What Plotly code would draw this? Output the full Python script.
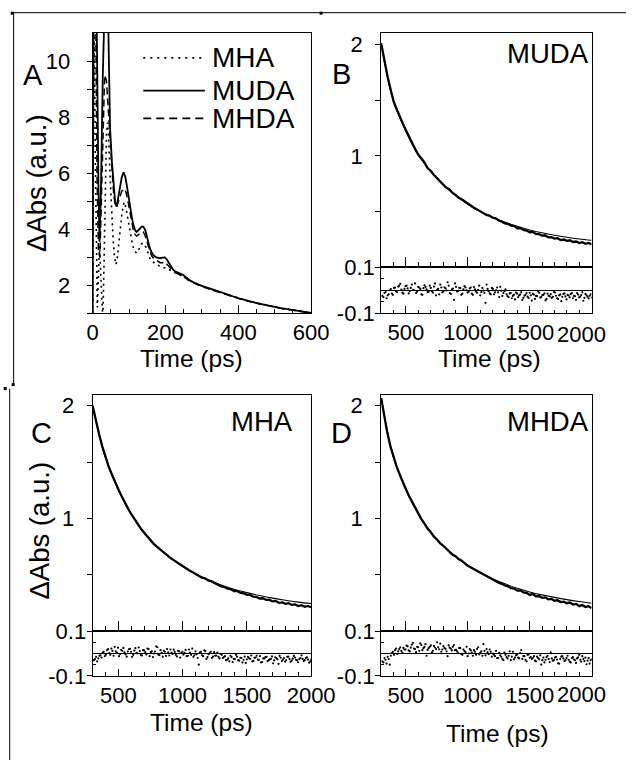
import plotly.graph_objects as go

W, H = 632, 763
FONT = "Liberation Sans, Arial, sans-serif"

# the photographed page is slightly shrunk and shifted; place items so they land where the
# reference shows them (layout positions only, no data)
SX, OX, SY, OY = 0.959, 4.8, 0.974, 9.8

def X(r):
    return (r - OX) / SX

def Y(r):
    return (r - OY) / SY

def fx(x):
    return X(x) / W

def fy(y):
    return 1 - Y(y) / H

# ---------------- Panel A data (0-600 ps) ----------------
a_muda_t = [0, 3, 6, 9, 12, 16, 19, 23, 28, 33, 39, 44, 48, 53, 57, 62, 66, 70, 75, 80, 85, 90, 94, 99,
            103, 108, 112, 117, 121, 126, 130, 135, 139, 144, 148, 153, 157, 162, 166, 175, 185, 192, 198,
            203, 207, 214, 221, 228, 235, 242, 248, 255, 262, 270, 280, 290,
            300, 310, 320, 330, 340, 350, 360, 370, 380, 390, 400, 410, 420, 430, 440, 450, 460, 470, 480,
            490, 500, 510, 520, 530, 540, 550, 560, 570, 580, 590, 600]
a_muda_v = [1.0, 14, 18, 14, 9, 5.5, 3.55, 5.5, 9.5, 13, 15, 10.5, 7.6, 6.4, 5.7, 4.95, 4.8, 5.1, 5.55, 5.85,
            6.03, 5.85, 5.55, 5.1, 4.73, 4.4, 4.14, 3.95, 3.9, 3.98, 4.03, 4.09, 4.09, 3.98, 3.8, 3.55, 3.32,
            3.18, 3.08, 2.99, 2.96, 2.98, 2.99, 2.93, 2.85, 2.7, 2.55, 2.48, 2.43, 2.4, 2.37, 2.29, 2.2, 2.14,
            2.08, 2.02,
            1.97, 1.93, 1.88, 1.84, 1.80, 1.76, 1.71, 1.67, 1.62, 1.57, 1.53, 1.50, 1.46, 1.43, 1.39, 1.36,
            1.33, 1.30, 1.27, 1.25, 1.22, 1.20, 1.17, 1.15, 1.13, 1.11, 1.09, 1.07, 1.05, 1.03, 1.01]

a_mhda_t = [0, 3, 6, 9, 12, 16, 20, 24, 28, 33, 38, 43, 48, 53, 58, 62, 66, 70, 75, 80, 87, 92, 97, 102,
            107, 112, 117, 121, 126, 130, 135, 139, 144, 148, 153, 157, 162, 166, 175, 185, 192, 198, 203,
            207, 214, 221, 228, 235, 242, 248, 255, 262, 270, 280, 290,
            300, 310, 320, 330, 340, 350, 360, 370, 380, 390, 400, 410, 420, 430, 440, 450, 460, 470, 480,
            490, 500, 510, 520, 530, 540, 550, 560, 570, 580, 590, 600]
a_mhda_v = [1.0, 13, 16, 11, 6, 3.2, 3.0, 5.0, 7.5, 9.5, 9.3, 8.2, 6.98, 5.9, 5.2, 4.9, 4.78, 4.95, 5.2, 5.35,
            5.44, 5.3, 5.0, 4.6, 4.25, 3.95, 3.8, 3.75, 3.8, 3.85, 3.9, 3.9, 3.78, 3.6, 3.4, 3.2, 3.05, 2.98,
            2.88, 2.8, 2.8, 2.82, 2.76, 2.7, 2.6, 2.5, 2.44, 2.4, 2.36, 2.32, 2.26, 2.18, 2.12, 2.06, 2.0,
            1.95, 1.90, 1.86, 1.81, 1.77, 1.73, 1.69, 1.65, 1.60, 1.55, 1.51, 1.48, 1.44, 1.41, 1.38, 1.35,
            1.32, 1.29, 1.26, 1.23, 1.21, 1.18, 1.16, 1.14, 1.12, 1.10, 1.08, 1.06, 1.04, 1.02, 1.00]

a_mha_t = [0, 2, 4, 7, 10, 13, 16, 19, 22, 25, 28, 31, 35, 38, 41, 44, 48, 52, 56, 60, 64, 68, 72, 76, 80,
           84, 87, 91, 95, 100, 105, 110, 115, 121, 126, 130, 135, 139, 144, 148, 153, 157, 163, 170, 178,
           185, 192, 200, 207, 215, 222, 230, 240, 250, 260, 270, 280, 290,
           300, 310, 320, 330, 340, 350, 360, 370, 380, 390, 400, 410, 420, 430, 440, 450, 460, 470, 480,
           490, 500, 510, 520, 530, 540, 550, 560, 570, 580, 590, 600]
a_mha_v = [1.0, 9, 13, 7, 3, 1.2, 2.4, 3.4, 2.5, 1.3, 0.8, 2.5, 5.5, 7.4, 7.8, 7.3, 5.9, 4.6, 3.7, 3.0, 2.73,
           3.0, 3.6, 4.1, 4.5, 4.85, 4.97, 4.8, 4.5, 4.1, 3.7, 3.4, 3.22, 3.14, 3.25, 3.38, 3.48, 3.5, 3.42,
           3.3, 3.1, 2.96, 2.85, 2.78, 2.72, 2.67, 2.64, 2.62, 2.58, 2.52, 2.47, 2.42, 2.36, 2.3, 2.22, 2.15,
           2.08, 2.02,
           1.96, 1.91, 1.87, 1.82, 1.78, 1.74, 1.70, 1.66, 1.61, 1.56, 1.52, 1.49, 1.45, 1.42, 1.39, 1.36,
           1.33, 1.30, 1.27, 1.24, 1.22, 1.19, 1.17, 1.15, 1.13, 1.11, 1.09, 1.07, 1.05, 1.03, 1.01]

# ---------------- Panels B-D: decay data (300-2000 ps, every 25 ps) ----------------
t_data = [300, 325, 350, 375, 400, 425, 450, 475, 500, 525, 550, 575, 600, 625, 650, 675, 700, 725, 750,
          775, 800, 825, 850, 875, 900, 925, 950, 975, 1000, 1025, 1050, 1075, 1100, 1125, 1150, 1175,
          1200, 1225, 1250, 1275, 1300, 1325, 1350, 1375, 1400, 1425, 1450, 1475, 1500, 1525, 1550, 1575,
          1600, 1625, 1650, 1675, 1700, 1725, 1750, 1775, 1800, 1825, 1850, 1875, 1900, 1925, 1950, 1975,
          2000]

b_data = [2.01, 1.85, 1.72, 1.60, 1.49, 1.42, 1.35, 1.29, 1.23, 1.17, 1.12, 1.06, 1.01, 0.975, 0.94, 0.89,
          0.865, 0.83, 0.80, 0.77, 0.745, 0.715, 0.70, 0.67, 0.65, 0.625, 0.61, 0.59, 0.568, 0.555, 0.535,
          0.52, 0.505, 0.49, 0.47, 0.465, 0.445, 0.44, 0.42, 0.41, 0.395, 0.39, 0.375, 0.37, 0.35, 0.352,
          0.335, 0.33, 0.315, 0.318, 0.30, 0.298, 0.285, 0.288, 0.27, 0.272, 0.258, 0.262, 0.245, 0.25,
          0.238, 0.243, 0.228, 0.232, 0.218, 0.226, 0.212, 0.22, 0.208]

c_data = [2.00, 1.86, 1.75, 1.64, 1.54, 1.46, 1.39, 1.32, 1.26, 1.20, 1.14, 1.09, 1.04, 0.995, 0.955, 0.91,
          0.875, 0.84, 0.81, 0.775, 0.75, 0.725, 0.70, 0.68, 0.655, 0.635, 0.615, 0.595, 0.572, 0.56, 0.54,
          0.525, 0.508, 0.495, 0.475, 0.468, 0.45, 0.442, 0.425, 0.415, 0.398, 0.392, 0.378, 0.372, 0.355,
          0.356, 0.34, 0.336, 0.322, 0.322, 0.306, 0.304, 0.29, 0.292, 0.277, 0.279, 0.264, 0.268, 0.251,
          0.256, 0.243, 0.248, 0.233, 0.238, 0.223, 0.23, 0.216, 0.224, 0.212]

d_data = [2.07, 1.90, 1.76, 1.64, 1.54, 1.46, 1.39, 1.32, 1.26, 1.20, 1.145, 1.09, 1.04, 0.995, 0.955, 0.91,
          0.88, 0.84, 0.815, 0.78, 0.76, 0.73, 0.71, 0.68, 0.665, 0.64, 0.625, 0.60, 0.58, 0.565, 0.55,
          0.53, 0.515, 0.50, 0.485, 0.47, 0.458, 0.445, 0.43, 0.42, 0.405, 0.398, 0.382, 0.378, 0.36,
          0.362, 0.345, 0.34, 0.322, 0.33, 0.31, 0.312, 0.296, 0.30, 0.283, 0.287, 0.27, 0.275, 0.258,
          0.262, 0.248, 0.254, 0.236, 0.242, 0.222, 0.232, 0.214, 0.222, 0.205]

# fitted curves (every 100 ps)
t_fit = [300, 400, 500, 600, 700, 800, 900, 1000, 1100, 1200, 1300, 1400, 1500, 1600, 1700, 1800, 1900, 2000]
b_fit = [2.00, 1.49, 1.22, 1.01, 0.86, 0.74, 0.645, 0.565, 0.50, 0.45, 0.405, 0.368, 0.336, 0.31, 0.288,
         0.27, 0.255, 0.243]
c_fit = [2.00, 1.54, 1.26, 1.04, 0.875, 0.75, 0.655, 0.575, 0.51, 0.455, 0.41, 0.372, 0.342, 0.316, 0.293,
         0.274, 0.258, 0.245]
d_fit = [2.07, 1.54, 1.26, 1.04, 0.88, 0.76, 0.665, 0.585, 0.52, 0.465, 0.42, 0.38, 0.348, 0.322, 0.30,
         0.28, 0.263, 0.248]

# residuals (data - fit): two interleaved sample sets, every 17 ps from 310 ps and from 318.5 ps
resid_t0, resid2_t0, resid_dt = 310, 318.5, 17
b_resid = [-0.025, -0.012, -0.035, -0.018, 0.005, -0.02,
           0.012, -0.008, 0.02, 0.003, -0.015, 0.018, 0.008, -0.004, 0.025, 0.001, -0.012, 0.015, 0.006,
           -0.02, 0.022, 0.004, -0.006,
           0.01, -0.01, 0.03, 0.002, -0.018, 0.012, -0.005, 0.008, 0.035, -0.012, 0.004, -0.042, 0.015,
           -0.003, 0.009, -0.015, 0.018, 0.0,
           -0.006, 0.012, -0.02, 0.004, -0.011, 0.02, -0.008, -0.002, -0.055, 0.006, -0.014, 0.01, -0.018,
           0.0, -0.009, 0.015, -0.025, -0.004,
           -0.018, -0.03, -0.012, -0.025, -0.04, -0.015, -0.022, -0.008, -0.033, -0.02, -0.028, -0.011,
           -0.045, -0.019, -0.025, -0.005, -0.032, -0.021, -0.014, -0.038, -0.024, -0.017, -0.029, -0.01,
           -0.035, -0.022, -0.048, -0.016, -0.027, -0.02, -0.031, -0.013, -0.025, -0.042, -0.019, -0.028,
           -0.009, -0.033, -0.022, -0.036, -0.018]
b_resid2 = [-0.03, -0.008, -0.022, 0.0, -0.015, 0.01,
            -0.005, 0.016, 0.028, -0.01, 0.006, 0.02, -0.014, 0.01, 0.002, 0.03, -0.006, 0.012, -0.018,
            0.009, 0.014, -0.008, 0.02,
            -0.004, 0.016, -0.022, 0.006, 0.025, -0.009, 0.013, -0.001, 0.02, -0.016, 0.007, 0.03, -0.006,
            0.011, -0.02, 0.004, 0.012, -0.01,
            0.008, -0.015, 0.014, -0.005, 0.002, -0.022, 0.01, -0.012, 0.025, -0.004, -0.018, 0.006, -0.009,
            0.012, -0.03, -0.002, -0.012, 0.004,
            -0.026, -0.014, -0.035, -0.02, -0.01, -0.03, -0.018, -0.042, -0.024, -0.012, -0.034, -0.022,
            -0.016, -0.038, -0.026, -0.011, -0.03, -0.02, -0.044, -0.015, -0.027, -0.033, -0.008, -0.024,
            -0.038, -0.019, -0.029, -0.014, -0.04, -0.023, -0.017, -0.035, -0.026, -0.012, -0.031, -0.021,
            -0.046, -0.016, -0.028, -0.024, -0.032]
c_resid = [-0.03, -0.015, -0.022, -0.008, 0.004, -0.012,
           0.015, 0.002, 0.022, -0.01, 0.01, 0.026, -0.002, 0.012, 0.005, -0.014, 0.019, 0.008, -0.006,
           0.024, 0.0, 0.011, -0.009,
           0.014, -0.004, 0.02, 0.006, -0.016, 0.009, 0.028, -0.007, 0.003, 0.012, -0.011, 0.005, 0.018,
           -0.002, 0.007, -0.013, 0.01, 0.002,
           -0.005, 0.016, -0.01, 0.004, 0.022, -0.008, -0.003, -0.05, 0.008, -0.012, 0.011, -0.016, 0.002,
           -0.02, 0.006, -0.009, -0.015, -0.002,
           -0.02, -0.012, -0.028, -0.035, -0.016, -0.024, -0.006, -0.03, -0.019, -0.04, -0.014, -0.026,
           -0.021, -0.009, -0.033, -0.018, -0.027, -0.012, -0.038, -0.022, -0.015, -0.03, -0.024, -0.044,
           -0.017, -0.026, -0.011, -0.034, -0.02, -0.029, -0.014, -0.037, -0.023, -0.018, -0.031, -0.025,
           -0.008, -0.033, -0.021, -0.027, -0.035]
c_resid2 = [-0.025, -0.035, -0.01, -0.018, 0.008, -0.005,
            0.02, -0.006, 0.012, 0.03, 0.004, -0.012, 0.016, 0.025, -0.004, 0.009, 0.021, -0.015, 0.013,
            0.003, 0.027, -0.007, 0.015,
            0.006, 0.022, -0.012, 0.01, 0.0, 0.032, -0.005, 0.015, -0.014, 0.008, 0.02, -0.009, 0.004,
            0.017, -0.006, 0.012, -0.018, 0.008,
            0.003, -0.012, 0.018, -0.006, -0.015, 0.01, -0.02, 0.005, -0.008, 0.014, -0.024, -0.003, 0.008,
            -0.014, -0.01, 0.004, -0.022, -0.006,
            -0.016, -0.03, -0.022, -0.01, -0.038, -0.025, -0.014, -0.032, -0.02, -0.028, -0.042, -0.015,
            -0.024, -0.035, -0.019, -0.01, -0.029, -0.04, -0.022, -0.016, -0.034, -0.026, -0.013, -0.031,
            -0.021, -0.046, -0.019, -0.027, -0.036, -0.015, -0.025, -0.032, -0.011, -0.028, -0.039, -0.02,
            -0.024, -0.03, -0.017, -0.041, -0.026]
d_resid = [-0.035, -0.02, -0.045, -0.025,
           -0.01, 0.008, 0.015, -0.002, 0.02, 0.012, 0.025,
           0.018, 0.032, 0.01, 0.04, 0.022, 0.006, 0.028, 0.045, 0.015, 0.03, -0.01, 0.024, 0.036, 0.012,
           0.027, 0.05, 0.019, 0.008, 0.033, 0.021, -0.012, 0.026, 0.014, 0.038,
           0.016, 0.002, 0.024, -0.006, 0.011, 0.03, 0.0, 0.014, -0.01, 0.008, 0.02, -0.004, 0.01, 0.042,
           -0.008, 0.006, 0.018, -0.014,
           -0.005, 0.012, -0.02, -0.008, -0.025, 0.004, -0.016, -0.01, -0.03, 0.008, -0.018, -0.004, -0.022,
           0.015, -0.012, -0.028, -0.006, -0.019,
           -0.025, -0.012, -0.035, -0.02, -0.008, -0.03, -0.04, -0.016, -0.024, 0.005, -0.032, -0.018,
           -0.027, -0.045, -0.014, -0.022, -0.03, -0.01, -0.036, -0.02, -0.026, -0.042, -0.017, -0.028,
           -0.012, -0.034, -0.048, -0.021, -0.03]
d_resid2 = [-0.04, -0.028, -0.015, -0.05,
            0.002, -0.006, 0.022, 0.01, 0.028, 0.004, 0.018,
            0.035, 0.014, 0.026, 0.048, 0.02, 0.03, 0.012, 0.038, 0.024, 0.042, 0.016, 0.03, 0.005, 0.034,
            0.02, 0.028, 0.044, 0.018, 0.025, 0.01, 0.036, 0.022, 0.03, 0.015,
            0.01, 0.025, -0.002, 0.018, 0.006, -0.012, 0.02, 0.004, 0.015, -0.005, 0.028, 0.003, -0.01,
            0.012, 0.02, -0.003, 0.008, 0.0,
            -0.012, -0.02, 0.003, -0.015, -0.03, -0.006, -0.022, 0.01, -0.014, -0.026, -0.008, -0.018,
            0.002, -0.024, -0.012, -0.035, -0.004, -0.016,
            -0.02, -0.032, -0.014, -0.026, -0.05, -0.018, -0.028, -0.01, -0.038, -0.022, -0.03, -0.015,
            -0.044, -0.025, -0.012, -0.034, -0.02, -0.028, -0.04, -0.016, -0.03, -0.022, -0.006, -0.036,
            -0.024, -0.018, -0.032, -0.045, -0.026]

def times(t0, vals):
    return [t0 + resid_dt * i for i in range(len(vals))]

# ---------------- Figure ----------------
fig = go.Figure()

BLACK = "black"
fig.add_trace(go.Scatter(x=a_mha_t, y=a_mha_v, mode="lines", xaxis="x", yaxis="y",
                         line=dict(color=BLACK, width=1.6, dash="2px,4px"), showlegend=False))
fig.add_trace(go.Scatter(x=a_mhda_t, y=a_mhda_v, mode="lines", xaxis="x", yaxis="y",
                         line=dict(color=BLACK, width=1.5, dash="7px,4px"), showlegend=False))
fig.add_trace(go.Scatter(x=a_muda_t, y=a_muda_v, mode="lines", xaxis="x", yaxis="y",
                         line=dict(color=BLACK, width=1.8), showlegend=False))

panels = [("x2", "y2", "x3", "y3", b_data, b_fit, b_resid, b_resid2),
          ("x4", "y4", "x5", "y5", c_data, c_fit, c_resid, c_resid2),
          ("x6", "y6", "x7", "y7", d_data, d_fit, d_resid, d_resid2)]
for xm, ym, xr, yr, dat, fit, res, res2 in panels:
    fig.add_trace(go.Scatter(x=t_data, y=dat, mode="lines", xaxis=xm, yaxis=ym,
                             line=dict(color=BLACK, width=2.3), showlegend=False))
    fig.add_trace(go.Scatter(x=t_fit, y=fit, mode="lines", xaxis=xm, yaxis=ym,
                             line=dict(color=BLACK, width=1.1, shape="spline"), showlegend=False))
    fig.add_trace(go.Scatter(x=times(resid_t0, res) + times(resid2_t0, res2), y=res + res2,
                             mode="markers", xaxis=xr, yaxis=yr,
                             marker=dict(color=BLACK, size=2.2), showlegend=False))

TICK = 22
tickfont = dict(family=FONT, size=TICK, color=BLACK)

def xax(dom, anchor, rng, tickvals, ticktext, mdt, tl, mtl, labels):
    return dict(domain=dom, anchor=anchor, range=rng, tickmode="array", tickvals=tickvals,
                ticktext=ticktext, ticks="inside", ticklen=tl, tickwidth=1, tickcolor=BLACK,
                minor=dict(tickmode="linear", tick0=0, dtick=mdt, ticks="inside", ticklen=mtl,
                           tickwidth=1, tickcolor=BLACK),
                showline=True, linecolor=BLACK, linewidth=1, mirror=True, showgrid=False,
                zeroline=False, showticklabels=labels, tickfont=tickfont, ticklabelstandoff=0)

def yax(dom, anchor, rng, tickvals, ticktext, mvals, standoff, mticks="outside", mlen=5, zl=False):
    return dict(domain=dom, anchor=anchor, range=rng, tickmode="array", tickvals=tickvals,
                ticktext=ticktext, ticks="outside", ticklen=5, tickwidth=1, tickcolor=BLACK,
                minor=dict(tickmode="array", tickvals=mvals, ticks=mticks, ticklen=mlen, tickwidth=1,
                           tickcolor=BLACK),
                showline=True, linecolor=BLACK, linewidth=1, mirror=True, showgrid=False,
                zeroline=zl, zerolinecolor=BLACK, zerolinewidth=1, tickfont=tickfont,
                ticklabelstandoff=standoff)

domA = [fx(92), fx(312)]
domB = [fx(382.5), (X(603) - 9) / W]   # right column slightly narrowed so "2000" stays in view
long_ticks = [500, 1000, 1500, 2000]
long_text = ["500", "1000", "1500", "2000"]
right_text = ["500", "1000", "1500", ""]   # right-most label placed separately, inside the page

MAIN_SO, RES_SO = 8, -4
layout_axes = dict(
    xaxis=xax(domA, "y", [0, 600], [0, 200, 400, 600], ["0", "200", "400", "600"], 50, 8, 4, True),
    yaxis=yax([fy(313), fy(31)], "x", [1, 11], [2, 4, 6, 8, 10], ["2", "4", "6", "8", "10"],
              [1, 3, 5, 7, 9], 12),
    xaxis2=xax(domB, "y2", [300, 2000], long_ticks, long_text, 100, 10, 5, False),
    yaxis2=yax([fy(267), fy(31)], "x2", [0, 2.1], [1, 2], ["1", "2"], [0.5, 1.5], MAIN_SO),
    xaxis3=xax(domB, "y3", [300, 2000], long_ticks, right_text, 100, 7, 3.5, True),
    yaxis3=yax([fy(313), fy(267)], "x3", [-0.1, 0.1], [-0.1, 0.1], ["-0.1", "0.1"], [-0.05, 0.05], RES_SO,
               mticks="inside", mlen=3, zl=True),
    xaxis4=xax(domA, "y4", [300, 2000], long_ticks, long_text, 100, 10, 5, False),
    yaxis4=yax([fy(633.3), fy(395)], "x4", [0, 2.1], [1, 2], ["1", "2"], [0.5, 1.5], MAIN_SO),
    xaxis5=xax(domA, "y5", [300, 2000], long_ticks, long_text, 100, 7, 3.5, True),
    yaxis5=yax([fy(678.3), fy(633.3)], "x5", [-0.1, 0.1], [-0.1, 0.1], ["-0.1", "0.1"], [-0.05, 0.05],
               RES_SO, mticks="inside", mlen=3, zl=True),
    xaxis6=xax(domB, "y6", [300, 2000], long_ticks, long_text, 100, 10, 5, False),
    yaxis6=yax([fy(633.3), fy(395)], "x6", [0, 2.1], [1, 2], ["1", "2"], [0.5, 1.5], MAIN_SO),
    xaxis7=xax(domB, "y7", [300, 2000], long_ticks, right_text, 100, 7, 3.5, True),
    yaxis7=yax([fy(678.3), fy(633.3)], "x7", [-0.1, 0.1], [-0.1, 0.1], ["-0.1", "0.1"], [-0.05, 0.05],
               RES_SO, mticks="inside", mlen=3, zl=True),
)

annotations = []

def text(x, y, s, size, angle=0, xanchor="center", raw=False):
    annotations.append(dict(x=(x / W) if raw else fx(x), y=fy(y), xref="paper", yref="paper", text=s,
                            showarrow=False, xanchor=xanchor, yanchor="middle", textangle=angle,
                            font=dict(family=FONT, size=size, color=BLACK)))

# panel letters
text(32, 73, "A", 29)
text(343, 72, "B", 29)
text(41, 434, "C", 29)
text(343, 434, "D", 29)
# sample labels
text(550, 52, "MUDA", 27.5)
text(263, 422, "MHA", 27.5)
text(550, 422, "MHDA", 27.5)
# axis titles
text(192, 359, "Time (ps)", 24.5)
text(492, 359, "Time (ps)", 24.5)
text(202, 725, "Time (ps)", 24.5)
text(500, 736, "Time (ps)", 24.5)
text(35, 182, "\u0394Abs (a.u.)", 27.5, angle=-90)
text(39, 532, "\u0394Abs (a.u.)", 27.5, angle=-90)
# right-most tick labels of panels B and D, kept inside the page
text(631.5, 335, "2000", TICK, xanchor="right", raw=True)
text(631.5, 697, "2000", TICK, xanchor="right", raw=True)
# legend labels (panel A)
legend_names = ["MHA", "MUDA", "MHDA"]
legend_rows = [56, 89, 117]
for name, yy in zip(legend_names, legend_rows):
    text(210, yy, name, 28, xanchor="left")

shapes = []
def pline(x0, y0, x1, y1, width=1, dash="solid"):
    shapes.append(dict(type="line", xref="paper", yref="paper", x0=fx(x0), y0=fy(y0), x1=fx(x1),
                       y1=fy(y1), line=dict(color=BLACK, width=width, dash=dash)))

# legend samples
pline(143, 56, 205, 56, 1.8, "2px,5px")
pline(143, 89, 205, 89, 1.8)
pline(143, 117, 205, 117, 1.8, "8px,5px")

# page frame decorations
pline(10, 10.5, 629, 10.5, 1)
pline(12.5, 10, 12.5, 386, 1)
pline(8.5, 389, 8.5, 763, 1)
for (sx, sy) in [(11, 11), (322, 11), (12, 385), (4, 389)]:
    shapes.append(dict(type="rect", xref="paper", yref="paper", x0=fx(sx - 1.5), x1=fx(sx + 1.5),
                       y0=fy(sy + 1.5), y1=fy(sy - 1.5), fillcolor=BLACK, line=dict(width=0)))

fig.update_layout(width=W, height=H, autosize=False, margin=dict(l=0, r=0, t=0, b=0),
                  paper_bgcolor="white", plot_bgcolor="white", showlegend=False,
                  annotations=annotations, shapes=shapes, **layout_axes)

post = (
    "var s=document.createElement('style');"
    "s.textContent='html,body{margin:0!important;padding:0!important;overflow:hidden!important;}';"
    "document.head.appendChild(s);"
    "var g=document.getElementsByClassName('plotly-graph-div')[0];"
    "if(g){g.style.position='fixed';g.style.left='0px';g.style.top='0px';g.style.margin='0';}"
)
fig.write_html("out.html", config={"displayModeBar": False, "responsive": False}, post_script=post)
